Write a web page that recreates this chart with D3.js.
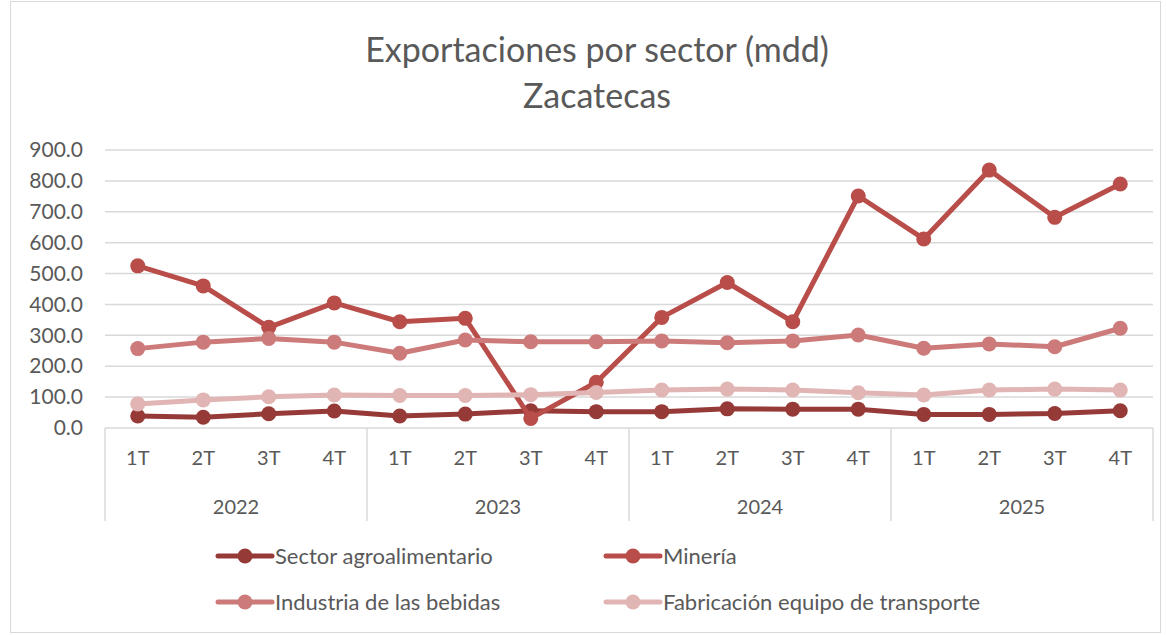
<!DOCTYPE html>
<html>
<head>
<meta charset="utf-8">
<script src="https://cdn.jsdelivr.net/npm/d3@7"></script>
<style>
  body { margin: 0; background: #fff; }
  text { font-family: Lato, "Open Sans", sans-serif; fill: #595959; }
</style>
</head>
<body>
<div id="chart"></div>
<script>
// datos
const years = ["2022", "2023", "2024", "2025"];
const quarters = ["1T", "2T", "3T", "4T"];
const seriesNames = ["Sector agroalimentario", "Minería", "Industria de las bebidas", "Fabricación equipo de transporte"];
const seriesColors = ["#963a38", "#b84d49", "#cc7b7a", "#e0b5b4"];

const agro       = [39, 35, 46, 55, 39, 45, 56, 53, 53, 62, 61, 61, 44, 44, 47, 56];
const mineria    = [525, 460, 326, 405, 344, 355, 31, 148, 358, 471, 344, 751, 612, 835, 682, 790];
const bebidas    = [257, 278, 290, 278, 242, 285, 279, 279, 282, 276, 282, 301, 258, 272, 263, 323];
const transporte = [78, 91, 101, 107, 105, 105, 108, 115, 123, 126, 123, 114, 107, 123, 126, 123];

const yTicks = [0, 100, 200, 300, 400, 500, 600, 700, 800, 900];

const allSeries = [agro, mineria, bebidas, transporte];

// categorias: año + trimestre
const cats = [];
years.forEach(y => quarters.forEach(q => cats.push(y + "-" + q)));

const W = 1167, H = 635;
const plot = {left: 105, right: 1153, top: 150, bottom: 428};

const svg = d3.select("#chart").append("svg")
    .attr("width", W)
    .attr("height", H);

// borde
svg.append("rect")
    .attr("x", 10.5).attr("y", 1.5)
    .attr("width", 1150).attr("height", 631)
    .attr("fill", "#fff")
    .attr("stroke", "#d9d9d9")
    .attr("stroke-width", 1);

// titulo
svg.append("text")
    .attr("x", 597).attr("y", 62)
    .attr("text-anchor", "middle")
    .style("font-size", "34px")
    .text("Exportaciones por sector (mdd)");
svg.append("text")
    .attr("x", 597).attr("y", 108)
    .attr("text-anchor", "middle")
    .style("font-size", "34px")
    .text("Zacatecas");

// escalas
const x = d3.scaleBand()
    .domain(cats)
    .range([plot.left, plot.right])
    .padding(0);

const y = d3.scaleLinear()
    .domain([0, 900])
    .range([plot.bottom, plot.top]);

// rejilla
svg.append("g")
    .selectAll("line")
    .data(yTicks.filter(d => d > 0))
    .enter()
    .append("line")
    .attr("x1", plot.left).attr("x2", plot.right)
    .attr("y1", d => y(d)).attr("y2", d => y(d))
    .attr("stroke", "#d9d9d9")
    .attr("stroke-width", 1.5);

// eje y
const yAxis = d3.axisLeft(y)
    .tickValues(yTicks)
    .tickFormat(d3.format(".1f"))
    .tickSize(0)
    .tickPadding(0);
const yAxisG = svg.append("g")
    .attr("transform", "translate(83,0)")
    .call(yAxis);
yAxisG.select(".domain").remove();
yAxisG.selectAll(".tick text")
    .style("font-size", "21px")
    .style("font-family", "Lato, sans-serif")
    .attr("fill", "#595959");

// eje x (linea base)
svg.append("line")
    .attr("x1", plot.left).attr("x2", plot.right)
    .attr("y1", plot.bottom).attr("y2", plot.bottom)
    .attr("stroke", "#d9d9d9")
    .attr("stroke-width", 1.5);

// separadores de años
const bounds = years.map(yr => x(yr + "-1T")).concat([plot.right]);
svg.append("g")
    .selectAll("line")
    .data(bounds)
    .enter()
    .append("line")
    .attr("x1", d => d).attr("x2", d => d)
    .attr("y1", plot.bottom).attr("y2", 521)
    .attr("stroke", "#d9d9d9")
    .attr("stroke-width", 1.5);

// etiquetas trimestres
svg.append("g")
    .selectAll("text")
    .data(cats)
    .enter()
    .append("text")
    .attr("x", d => x(d) + x.bandwidth() / 2)
    .attr("y", 465)
    .attr("text-anchor", "middle")
    .style("font-size", "20px")
    .text(d => d.split("-")[1]);

// etiquetas años
svg.append("g")
    .selectAll("text")
    .data(years)
    .enter()
    .append("text")
    .attr("x", d => x(d + "-1T") + x.bandwidth() * 2)
    .attr("y", 514)
    .attr("text-anchor", "middle")
    .style("font-size", "20px")
    .text(d => d);

// lineas
const line = d3.line()
    .x((d, i) => x(cats[i]) + x.bandwidth() / 2)
    .y(d => y(d));

allSeries.forEach((s, k) => {
    const g = svg.append("g").attr("class", "serie_" + k);
    g.append("path")
        .attr("d", line(s))
        .attr("fill", "none")
        .attr("stroke", seriesColors[k])
        .attr("stroke-width", 5)
        .attr("stroke-linejoin", "round");
    g.selectAll("circle")
        .data(s)
        .enter()
        .append("circle")
        .attr("cx", (d, i) => x(cats[i]) + x.bandwidth() / 2)
        .attr("cy", d => y(d))
        .attr("r", 7.5)
        .attr("fill", seriesColors[k]);
});

// leyenda
const legendPos = [[218, 556], [606, 556], [218, 602], [606, 602]];
seriesNames.forEach((name, k) => {
    const [lx, ly] = legendPos[k];
    const g = svg.append("g").attr("transform", "translate(" + lx + "," + ly + ")");
    g.append("line")
        .attr("x1", 0).attr("x2", 54)
        .attr("y1", 0).attr("y2", 0)
        .attr("stroke", seriesColors[k])
        .attr("stroke-width", 5)
        .attr("stroke-linecap", "round");
    g.append("circle")
        .attr("cx", 27).attr("cy", 0)
        .attr("r", 7.5)
        .attr("fill", seriesColors[k]);
    g.append("text")
        .attr("x", 57).attr("y", 7.5)
        .style("font-size", "22px")
        .text(name);
});
</script>
</body>
</html>
